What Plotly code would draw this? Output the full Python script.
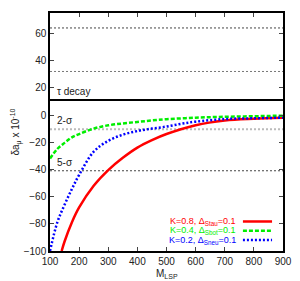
import plotly.graph_objects as go

# Data
m_red = [140, 150, 175, 200, 250, 300, 350, 400, 450, 500, 600, 700, 800, 900]
v_red = [-100, -93, -79, -68, -52, -40.5, -31.5, -24, -18.5, -14, -7.5, -4, -2.7, -2]
m_green = [100, 125, 150, 175, 200, 250, 300, 350, 400, 450, 500, 600, 700, 800, 900]
v_green = [-32, -25, -20.5, -16.5, -14, -10, -7.6, -6.2, -5.1, -4, -3.1, -2, -1.3, -0.9, -0.5]
m_blue = [100, 125, 150, 175, 200, 250, 300, 350, 400, 450, 500, 550, 600, 700, 800, 900]
v_blue = [-100, -79, -66, -54.5, -44, -27, -19, -14.5, -11.8, -10, -8.5, -6.5, -4.9, -3, -2.4, -2]

ref_levels = [64, 32, 11, -10.5, -41]
ref_labels = ["", "", "τ decay", "2-σ", "5-σ"]
legend_labels = ["K=0.8, Δ<sub>Stau</sub>=0.1", "K=0.4, Δ<sub>Sbot</sub>=0.1", "K=0.2, Δ<sub>Sneu</sub>=0.1"]
x_ticks = [100, 200, 300, 400, 500, 600, 700, 800, 900]
y_ticks = [-100, -80, -60, -40, -20, 0, 20, 40, 60]

FONT = "Liberation Sans, Arial, sans-serif"
fig = go.Figure()

styles = [
    ("#ff0000", "solid"),
    ("#00ee00", "4px,2px"),
    ("#0000ff", "2px,2px"),
]
for (mx, vy), (col, dash) in zip([(m_red, v_red), (m_green, v_green), (m_blue, v_blue)], styles):
    fig.add_trace(go.Scatter(x=mx, y=vy, mode="lines", line=dict(color=col, width=2.5, dash=dash, shape="spline"),
                             showlegend=False))

ref_styles = [
    dict(color="#444444", width=1, dash="2px,2px"),
    dict(color="#777777", width=1, dash="2px,2px"),
    dict(color="#000000", width=2, dash="solid"),
    dict(color="#bbbbbb", width=2, dash="2px,2px"),
    dict(color="#444444", width=1, dash="2px,2px"),
]
shapes = []
annotations = []
for lvl, lab, st in zip(ref_levels, ref_labels, ref_styles):
    shapes.append(dict(type="line", xref="paper", yref="y", x0=0, x1=1, y0=lvl, y1=lvl, line=st, layer="below"))
    if lab:
        annotations.append(dict(xref="paper", yref="y", x=0.02, y=lvl, text=lab, showarrow=False,
                                xanchor="left", yanchor="bottom", yshift=1,
                                font=dict(family=FONT, size=10, color="#222222")))

leg_y = [0.124, 0.085, 0.046]
for lab, (col, dash), yy in zip(legend_labels, styles, leg_y):
    annotations.append(dict(xref="paper", yref="paper", x=0.805, y=yy, text=lab, showarrow=False,
                            xanchor="right", yanchor="middle", font=dict(family=FONT, size=9, color=col)))
    shapes.append(dict(type="line", xref="paper", yref="paper", x0=0.828, x1=0.953, y0=yy, y1=yy,
                       line=dict(color=col, width=2.5, dash=dash)))

# Axis titles as annotations (fixed positions)
annotations.append(dict(xref="paper", yref="paper", x=-0.148, y=0.5, text="δa<sub>μ</sub> x 10<sup>-10</sup>",
                        textangle=-90, showarrow=False, xanchor="center", yanchor="middle",
                        font=dict(family=FONT, size=10, color="#222222")))
annotations.append(dict(xref="paper", yref="paper", x=0.5, y=-0.062, text="M<sub>LSP</sub>",
                        showarrow=False, xanchor="center", yanchor="top",
                        font=dict(family=FONT, size=10, color="#222222")))

# page body has an 8px default margin; figure sized to fit the 300x281 window
fig.update_layout(
    width=292, height=273,
    margin=dict(l=42, r=17, t=5, b=30),
    paper_bgcolor="white", plot_bgcolor="white",
    font=dict(family=FONT, size=10, color="#222222"),
    shapes=shapes, annotations=annotations,
    xaxis=dict(range=[100, 900], tickvals=x_ticks, ticks="inside", ticklen=4, tickcolor="#444444",
               showline=True, linecolor="black", linewidth=1.5, mirror="ticks", showgrid=False, zeroline=False,
               automargin=False),
    yaxis=dict(range=[-100, 75], tickvals=y_ticks, ticks="inside", ticklen=4, tickcolor="#444444",
               showline=True, linecolor="black", linewidth=1.5, mirror="ticks", showgrid=False, zeroline=False,
               automargin=False),
)

fig.write_html("out.html")
